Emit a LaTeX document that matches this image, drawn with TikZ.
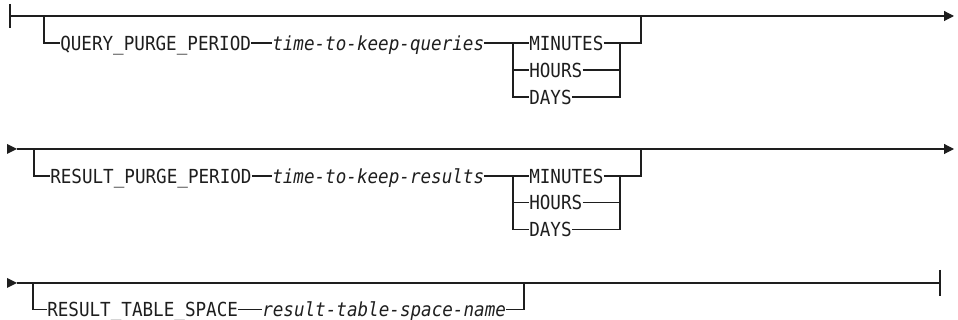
\documentclass[tikz,border=0pt]{standalone}
\usepackage{fontspec}
\setmonofont{DejaVu Sans Mono}
\usetikzlibrary{arrows.meta}
\definecolor{ink}{HTML}{1E1E1E}
\newcommand\talltxt[1]{\scalebox{1}[1.1]{#1}}
\tikzset{
  rr/.style={line width=0.85pt, draw=ink},
  endarrow/.style={rr, -{Triangle[length=7.5pt,width=7.5pt]}},
  kw/.style={inner sep=0pt, anchor=west, text height=10.55pt, text depth=0pt, text=ink,
    font=\ttfamily\fontsize{13.2}{15}\selectfont},
  var/.style={kw, font=\ttfamily\itshape\fontsize{13.2}{15}\selectfont},
}
\begin{document}
\begin{tikzpicture}[x=0.75pt,y=-0.75pt]
\useasboundingbox (0,0) rectangle (958,320);

% ---------------- Row 1 ----------------
\coordinate (s1) at (10,16);
\coordinate (e1) at (954,16);
\coordinate (b1) at (44,16);
\coordinate (j1) at (641,16);
\coordinate (g1l) at (513,43);
\coordinate (g1r) at (620,43);
\coordinate (g1o) at (641,43);
\node[kw]  (q1k) at (60,43)  {\talltxt{QUERY\_PURGE\_PERIOD}};
\node[var] (q1v) at (272,43) {\talltxt{time-to-keep-queries}};
\node[kw]  (q1m) at (529,43) {\talltxt{MINUTES}};
\node[kw]  (q1h) at (529,70) {\talltxt{HOURS}};
\node[kw]  (q1d) at (529,97) {\talltxt{DAYS}};
\draw[rr] (s1) ++(0,-12) -- ++(0,24);
\draw[endarrow] (s1) -- (e1);
\draw[rr] (b1) |- (q1k.west);
\draw[rr] (q1k) -- (q1v);
\draw[rr] (q1v) -- (q1m);
\draw[rr] (g1l) |- (q1h.west);
\draw[rr] (g1l) |- (q1d.west);
\draw[rr] (q1m.east) -- (g1r) -- (g1o) -- (j1);
\draw[rr] (q1h.east) -| (g1r);
\draw[rr] (q1d.east) -| (g1r);

% ---------------- Row 2 ----------------
\coordinate (s2) at (17,149);
\coordinate (e2) at (954,149);
\coordinate (b2) at (34,149);
\coordinate (j2) at (641,149);
\coordinate (g2l) at (513,176);
\coordinate (g2r) at (620,176);
\coordinate (g2o) at (641,176);
\node[kw]  (r2k) at (50,176)  {\talltxt{RESULT\_PURGE\_PERIOD}};
\node[var] (r2v) at (272,176) {\talltxt{time-to-keep-results}};
\node[kw]  (r2m) at (529,176) {\talltxt{MINUTES}};
\node[kw]  (r2h) at (529,202.7) {\talltxt{HOURS}};
\node[kw]  (r2d) at (529,229.3) {\talltxt{DAYS}};
\fill[ink] (s2) -- ++(-10,-5) -- ++(0,10) -- cycle;
\draw[endarrow] (s2) -- (e2);
\draw[rr] (b2) |- (r2k.west);
\draw[rr] (r2k) -- (r2v);
\draw[rr] (r2v) -- (r2m);
\draw[rr] (g2l) |- (r2h.west);
\draw[rr] (g2l) |- (r2d.west);
\draw[rr] (r2m.east) -- (g2r) -- (g2o) -- (j2);
\draw[rr] (r2h.east) -| (g2r);
\draw[rr] (r2d.east) -| (g2r);

% ---------------- Row 3 ----------------
\coordinate (s3) at (17,283);
\coordinate (e3) at (940,283);
\coordinate (b3) at (33,283);
\coordinate (j3) at (524,283);
\coordinate (c3) at (524,309.5);
\node[kw]  (t3k) at (47,309.5)  {\talltxt{RESULT\_TABLE\_SPACE}};
\node[var] (t3v) at (262,309.5) {\talltxt{result-table-space-name}};
\fill[ink] (s3) -- ++(-10,-5) -- ++(0,10) -- cycle;
\draw[rr] (s3) -- (e3);
\draw[rr] (e3) ++(0,-13) -- ++(0,26);
\draw[rr] (b3) |- (t3k.west);
\draw[rr] (t3k) -- (t3v);
\draw[rr] (t3v.east) -- (c3) -- (j3);
\end{tikzpicture}
\end{document}
